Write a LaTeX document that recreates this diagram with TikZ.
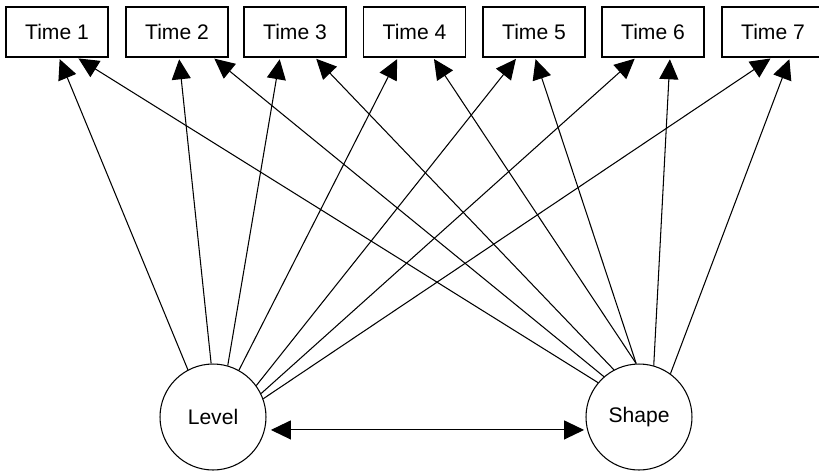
\documentclass[tikz,border=0pt]{standalone}
\usepackage{fontspec}
\setmainfont{Liberation Sans}
\usetikzlibrary{arrows.meta}

\begin{document}
\begin{tikzpicture}[x=0.02cm, y=-0.02cm,
    timebox/.style={draw, line width=0.6pt, minimum width=2.04cm, minimum height=1cm, inner sep=0pt, font=\fontsize{12}{14}\selectfont},
    factor/.style={draw, circle, line width=0.6pt, minimum size=2.12cm, inner sep=0pt, font=\fontsize{12}{14}\selectfont},
    loading/.style={line width=0.6pt, -{Triangle[length=0.4cm, width=0.38cm]}, shorten >=1pt},
    corr/.style={line width=0.6pt, {Triangle[length=0.4cm, width=0.38cm]}-{Triangle[length=0.4cm, width=0.38cm]}, shorten <=3.4pt, shorten >=1.7pt}]
    \clip (0,0) rectangle (819,471);

    % Time points
    \node[timebox] (t1) at (57,32) {Time 1};
    \node[timebox] (t2) at (177,32) {Time 2};
    \node[timebox] (t3) at (295,32) {Time 3};
    \node[timebox] (t4) at (414.5,32) {Time 4};
    \node[timebox] (t5) at (534,32) {Time 5};
    \node[timebox] (t6) at (653,32) {Time 6};
    \node[timebox] (t7) at (773,32) {Time 7};

    % Growth factors
    \node[factor] (level) at (213,417) {Level};
    \node[factor] (shape) at (639,417) {Shape};

    % Level loadings
    \draw[loading] (level.118) -- ([xshift=0.04cm]t1.south);
    \draw[loading] (level.92) -- ([xshift=0.04cm]t2.south);
    \draw[loading] (level.74) -- ([xshift=-0.3cm]t3.south);
    \draw[loading] (level.61) -- ([xshift=-0.33cm]t4.south);
    \draw[loading] (level.36) -- ([xshift=-0.34cm]t5.south);
    \draw[loading] (level.26) -- ([xshift=-0.34cm]t6.south);
    \draw[loading] (level.20) -- ([xshift=-0.02cm]t7.south);

    % Shape loadings
    \draw[loading] (shape.140) -- ([xshift=0.4cm]t1.south);
    \draw[loading] (shape.131) -- ([xshift=0.72cm]t2.south);
    \draw[loading] (shape.118) -- ([xshift=0.4cm]t3.south);
    \draw[loading] (shape.93) -- ([xshift=0.37cm]t4.south);
    \draw[loading] (shape.93) -- ([xshift=0.02cm]t5.south);
    \draw[loading] (shape.74) -- ([xshift=0.34cm]t6.south);
    \draw[loading] (shape.54) -- ([xshift=0.34cm]t7.south);

    % Covariance
    \draw[corr] (level.-14) -- (shape.194);
\end{tikzpicture}
\end{document}
